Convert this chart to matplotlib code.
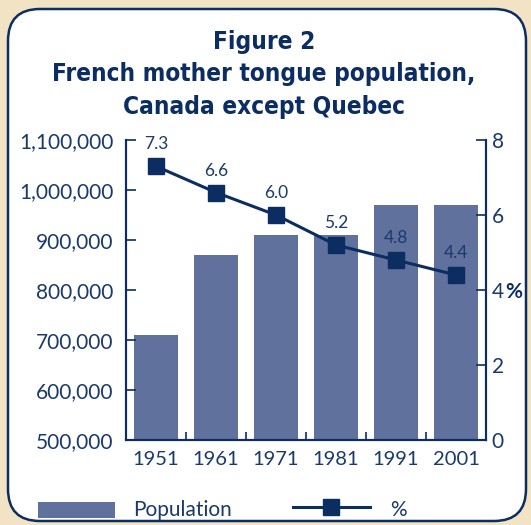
import matplotlib
matplotlib.use('Agg')

import matplotlib.pyplot as plt
from matplotlib.patches import FancyBboxPatch, Rectangle
from matplotlib.lines import Line2D
from matplotlib.ticker import FuncFormatter
from matplotlib import font_manager

# data
years = ["1951", "1961", "1971", "1981", "1991", "2001"]
population = [710000, 870000, 910000, 910000, 970000, 970000]
percent = [7.3, 6.6, 6.0, 5.2, 4.8, 4.4]
pct_labels = ["7.3", "6.6", "6.0", "5.2", "4.8", "4.4"]
title_lines = ["Figure 2", "French mother tongue population,", "Canada except Quebec"]

NAVY = "#0b2d62"
TEXT = "#1b3a6a"
BAR = "#5f719c"
BEIGE = "#f3e3c5"

W, H = 531, 525
fig = plt.figure(figsize=(W / 100, H / 100), dpi=100, facecolor=BEIGE)

# background layer in pixel units
bg = fig.add_axes([0, 0, 1, 1])
bg.set_xlim(0, W)
bg.set_ylim(H, 0)
bg.axis("off")
bg.add_patch(FancyBboxPatch((8, 9), 518, 512, boxstyle="round,pad=0,rounding_size=32",
                            facecolor="white", edgecolor=NAVY, linewidth=1.8))

# condensed bold title if a condensed face exists, else shrink
fp = font_manager.FontProperties(family="DejaVu Sans", weight="bold", stretch="condensed")
path = font_manager.findfont(fp)
condensed = "Condensed" in path
title_size = 17.5 if condensed else 15
for i, line in enumerate(title_lines):
    bg.text(264, 42 + i * 32.5, line, ha="center", va="center", fontsize=title_size,
            fontweight="bold", color=NAVY, family="DejaVu Sans", fontstretch="condensed")

# legend drawn by hand at the bottom
bg.add_patch(Rectangle((38, 502), 77, 16, facecolor=BAR, edgecolor="none"))
bg.text(133, 510, "Population", ha="left", va="center", fontsize=15, color=TEXT, family="Lato")
bg.add_line(Line2D([293, 370], [507, 507], color=NAVY, linewidth=2.2))
bg.plot([331], [507], marker="s", markersize=12, color=NAVY)
bg.text(390, 510, "%", ha="left", va="center", fontsize=15, color=TEXT, family="Lato")

# main chart
ax = fig.add_axes([126 / W, 1 - 440 / H, 360 / W, 300 / H])
ax.set_zorder(1)
ax.patch.set_alpha(0)
x = list(range(len(years)))
ax.bar(x, population, width=0.73, color=BAR, bottom=0)
ax.set_ylim(500000, 1100000)
ax.set_xlim(-0.5, 5.5)
ax.set_yticks(range(500000, 1100001, 100000))
ax.yaxis.set_major_formatter(FuncFormatter(lambda v, p: f"{int(v):,}"))
ax.set_xticks(x)
ax.set_xticklabels(years)
ax.set_xticks([i + 0.5 for i in range(5)], minor=True)
ax.tick_params(axis="x", which="major", length=0, pad=8, labelsize=14.5, labelcolor=TEXT)
ax.tick_params(axis="x", which="minor", direction="in", length=6, color=NAVY, width=1.2)
ax.tick_params(axis="y", direction="in", length=7, width=1.2, color=NAVY,
               labelsize=15, labelcolor=TEXT, pad=9)
for lbl in ax.get_xticklabels() + ax.get_yticklabels():
    lbl.set_family("Lato")
for s in ["left", "right", "bottom"]:
    ax.spines[s].set_color(NAVY)
    ax.spines[s].set_linewidth(1.5)
ax.spines["top"].set_visible(False)

ax2 = ax.twinx()
ax2.plot(x, percent, color=NAVY, linewidth=2.2, marker="s", markersize=12)
for xi, v, t in zip(x, percent, pct_labels):
    ax2.annotate(t, (xi, v), xytext=(0, 10), textcoords="offset points", ha="center",
                 va="bottom", fontsize=12.5, color=TEXT, family="Lato")
ax2.set_ylim(0, 8)
ax2.set_yticks([0, 2, 4, 6, 8])
ax2.set_yticklabels(["0", "2", "4", "6", "8"])
ax2.tick_params(axis="y", direction="in", length=7, width=1.2, color=NAVY,
                labelsize=15, labelcolor=TEXT, pad=4)
for lbl in ax2.get_yticklabels():
    lbl.set_family("Lato")
for s in ["left", "right", "bottom"]:
    ax2.spines[s].set_color(NAVY)
    ax2.spines[s].set_linewidth(1.5)
ax2.spines["top"].set_visible(False)
bg.text(505, 292, "%", ha="left", va="center", fontsize=15, fontweight="bold",
        color=NAVY, family="Lato")

fig.savefig("out.png", dpi=100, facecolor=BEIGE)
